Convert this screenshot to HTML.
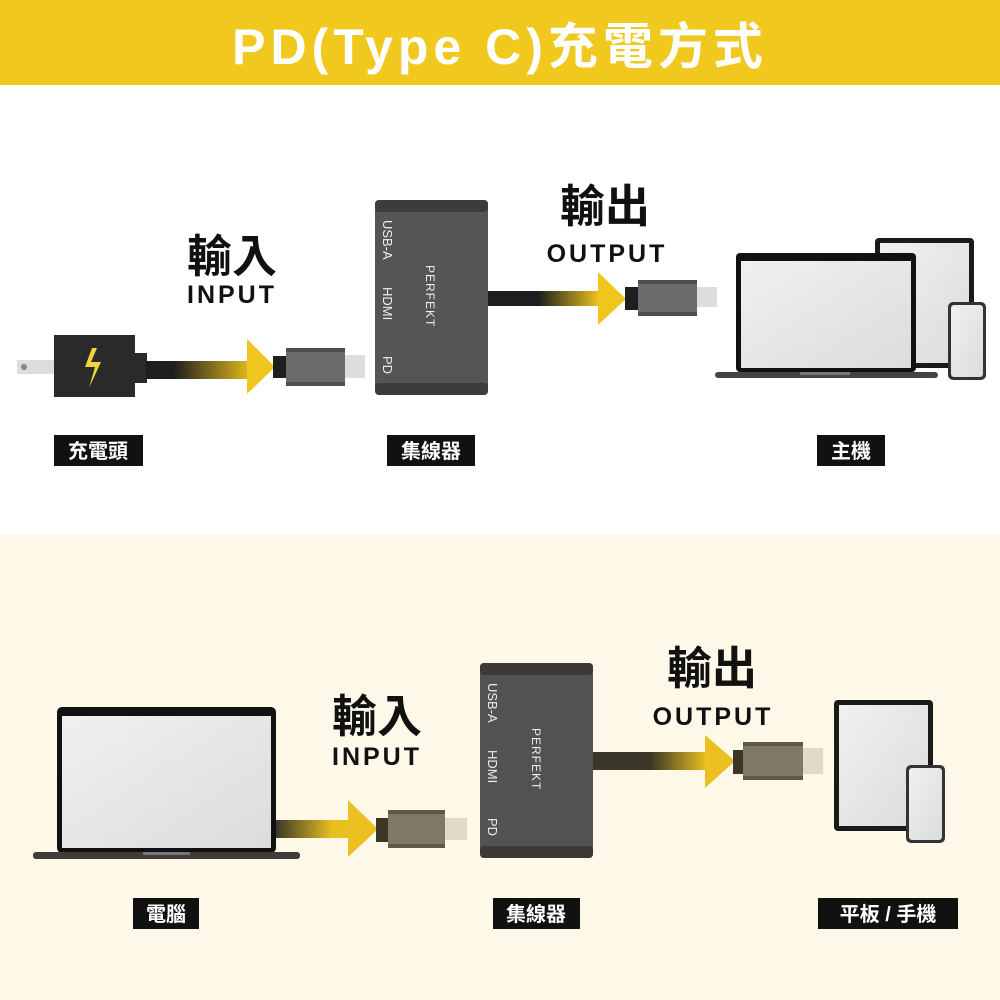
<!DOCTYPE html>
<html><head><meta charset="utf-8"><style>
html,body{margin:0;padding:0;width:1000px;height:1000px;overflow:hidden;background:#fff}
svg text{font-family:"Liberation Sans","Noto Sans CJK TC",sans-serif}
</style></head><body>
<svg width="1000" height="1000" viewBox="0 0 1000 1000" xmlns="http://www.w3.org/2000/svg">
<defs>
<linearGradient id="g1" x1="0" x2="1"><stop offset="0.25" stop-color="#1e1e1e"/><stop offset="1" stop-color="#f0c51e"/></linearGradient>
<linearGradient id="g2" x1="0" x2="1"><stop offset="0.45" stop-color="#1e1e1e"/><stop offset="1" stop-color="#f0c51e"/></linearGradient>
<linearGradient id="g3" x1="0" x2="1"><stop offset="0" stop-color="#3a3728"/><stop offset="0.7" stop-color="#e8c020"/></linearGradient>
<linearGradient id="g4" x1="0" x2="1"><stop offset="0.5" stop-color="#3a3728"/><stop offset="1" stop-color="#f0c51e"/></linearGradient>
<linearGradient id="scr" x1="0" y1="0" x2="1" y2="1"><stop offset="0" stop-color="#f0f0f0"/><stop offset="1" stop-color="#dcdcdc"/></linearGradient>
</defs>
<rect x="0" y="0" width="1000" height="85" fill="#f0c81e"/>
<text x="500" y="64" font-size="50" fill="#fff" text-anchor="middle" font-weight="bold" letter-spacing="5">PD(Type C)充電方式</text>
<rect x="0" y="535" width="1000" height="465" fill="#fdf8e8"/>

<!-- TOP -->
<rect x="17" y="360" width="40" height="14" fill="#ddd"/><circle cx="24" cy="367" r="3" fill="#888"/>
<rect x="54" y="335" width="81" height="62" fill="#2a2a2a"/>
<rect x="134" y="353" width="13" height="30" fill="#2a2a2a"/>
<polygon points="92,348 85,367 95,367 89,388 101,362 91,362 97,348" fill="#f2d43a"/>
<rect x="146" y="361" width="110" height="18" fill="url(#g1)"/>
<polygon points="247,339 275,367 247,394" fill="#f0c51e"/>
<rect x="273" y="356" width="14" height="22" fill="#1e1e1e"/>
<rect x="286" y="348" width="59" height="38" fill="#6b6b6b"/>
<rect x="286" y="348" width="59" height="4" fill="#4e4e4e"/><rect x="286" y="382" width="59" height="4" fill="#4e4e4e"/>
<rect x="345" y="355" width="20" height="23" fill="#ddd"/>

<rect x="375" y="200" width="113" height="195" rx="4" fill="#555"/>
<rect x="375" y="200" width="113" height="12" rx="4" fill="#3c3c3c"/>
<rect x="375" y="383" width="113" height="12" rx="4" fill="#3c3c3c"/>
<g fill="#eee" font-size="13">
<text transform="translate(383,220) rotate(90)">USB-A</text>
<text transform="translate(383,287) rotate(90)">HDMI</text>
<text transform="translate(383,356) rotate(90)">PD</text>
<text transform="translate(426,265) rotate(90)" font-size="12" letter-spacing="1">PERFEKT</text>
</g>
<rect x="488" y="291" width="112" height="15" fill="url(#g2)"/>
<polygon points="598,272 626,299 598,325" fill="#f0c51e"/>
<rect x="625" y="287" width="13" height="23" fill="#1e1e1e"/>
<rect x="638" y="280" width="59" height="36" fill="#6b6b6b"/>
<rect x="638" y="280" width="59" height="4" fill="#4e4e4e"/><rect x="638" y="312" width="59" height="4" fill="#4e4e4e"/>
<rect x="697" y="287" width="20" height="20" fill="#ddd"/>

<rect x="875" y="238" width="99" height="130" rx="4" fill="#1a1a1a"/>
<rect x="880" y="243" width="89" height="120" fill="url(#scr)"/>
<rect x="736" y="253" width="180" height="119" rx="4" fill="#111"/>
<rect x="741" y="261" width="170" height="107" fill="url(#scr)"/>
<rect x="715" y="372" width="223" height="6" rx="3" fill="#444"/>
<rect x="800" y="372" width="50" height="3" fill="#777"/>
<rect x="948" y="302" width="38" height="78" rx="5" fill="#333"/>
<rect x="951" y="305" width="32" height="72" rx="3" fill="url(#scr)"/>

<g font-size="45" font-weight="bold" fill="#111" text-anchor="middle">
<text x="232" y="272">輸入</text>
<text x="605" y="222">輸出</text>
<text x="377" y="732">輸入</text>
<text x="712" y="684">輸出</text>
</g>
<g font-size="25" font-weight="bold" fill="#111" text-anchor="middle" letter-spacing="3">
<text x="232" y="303">INPUT</text>
<text x="607" y="262">OUTPUT</text>
<text x="377" y="765">INPUT</text>
<text x="713" y="725">OUTPUT</text>
</g>

<g font-size="20" font-weight="bold" fill="#fff" text-anchor="middle">
<rect x="54" y="435" width="89" height="31" fill="#111"/><text x="98" y="458">充電頭</text>
<rect x="387" y="435" width="88" height="31" fill="#111"/><text x="431" y="458">集線器</text>
<rect x="817" y="435" width="68" height="31" fill="#111"/><text x="851" y="458">主機</text>
<rect x="133" y="898" width="66" height="31" fill="#111"/><text x="166" y="921">電腦</text>
<rect x="493" y="898" width="87" height="31" fill="#111"/><text x="536" y="921">集線器</text>
<rect x="818" y="898" width="140" height="31" fill="#111"/><text x="888" y="921">平板 / 手機</text>
</g>

<!-- BOTTOM -->
<rect x="57" y="707" width="219" height="146" rx="5" fill="#111"/>
<rect x="62" y="716" width="209" height="132" fill="url(#scr)"/>
<rect x="33" y="852" width="267" height="7" rx="3" fill="#3e3d38"/>
<rect x="143" y="852" width="47" height="3" fill="#777"/>
<rect x="276" y="820" width="80" height="18" fill="url(#g3)"/>
<polygon points="348,800 378,829 348,857" fill="#ecc020"/>
<rect x="376" y="818" width="13" height="24" fill="#3a3728"/>
<rect x="388" y="810" width="57" height="38" fill="#7d7966"/>
<rect x="388" y="810" width="57" height="4" fill="#5c594a"/><rect x="388" y="844" width="57" height="4" fill="#5c594a"/>
<rect x="445" y="818" width="22" height="22" fill="#e0dac8"/>

<rect x="480" y="663" width="113" height="195" rx="4" fill="#545250"/>
<rect x="480" y="663" width="113" height="12" rx="4" fill="#3b3a38"/>
<rect x="480" y="846" width="113" height="12" rx="4" fill="#3b3a38"/>
<g fill="#eee" font-size="13">
<text transform="translate(488,683) rotate(90)">USB-A</text>
<text transform="translate(488,750) rotate(90)">HDMI</text>
<text transform="translate(488,818) rotate(90)">PD</text>
<text transform="translate(532,728) rotate(90)" font-size="12" letter-spacing="1">PERFEKT</text>
</g>
<rect x="593" y="752" width="115" height="18" fill="url(#g4)"/>
<polygon points="705,735 735,761 705,788" fill="#ecc020"/>
<rect x="733" y="750" width="12" height="24" fill="#3a3728"/>
<rect x="743" y="742" width="60" height="38" fill="#7d7966"/>
<rect x="743" y="742" width="60" height="4" fill="#5c594a"/><rect x="743" y="776" width="60" height="4" fill="#5c594a"/>
<rect x="803" y="748" width="20" height="26" fill="#e0dac8"/>

<rect x="834" y="700" width="99" height="131" rx="4" fill="#1a1a1a"/>
<rect x="839" y="705" width="89" height="121" fill="url(#scr)"/>
<rect x="906" y="765" width="39" height="78" rx="5" fill="#333"/>
<rect x="909" y="768" width="33" height="72" rx="3" fill="url(#scr)"/>
</svg>
</body></html>
